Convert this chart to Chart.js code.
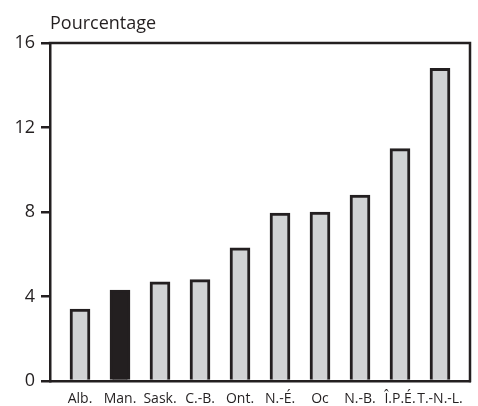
<!DOCTYPE html>
<html>
<head>
<meta charset="utf-8">
<script src="https://cdn.jsdelivr.net/npm/chart.js@4/dist/chart.umd.min.js"></script>
<style>
  html, body { margin: 0; padding: 0; background: #ffffff; }
  #wrap { width: 478px; height: 406px; }
</style>
</head>
<body>
<div id="wrap"><canvas id="c" width="478" height="406"></canvas></div>
<script>
const categories = ["Alb.", "Man.", "Sask.", "C.-B.", "Ont.", "N.-É.", "Oc", "N.-B.", "Î.P.É.", "T.-N.-L."];
const values = [3.4, 4.3, 4.7, 4.8, 6.3, 7.95, 8.0, 8.8, 11.0, 14.8];
const highlighted = "Man.";
const yTicks = [0, 4, 8, 12, 16];
const yTitle = "Pourcentage";

const INK = "#231f20";
const GREY = "#d1d3d4";

const points = categories.map((c, i) => ({ x: i, y: values[i] }));
const fills = categories.map(c => c === highlighted ? INK : GREY);

const framePlugin = {
  id: "frame",
  afterDraw(chart) {
    const { ctx, chartArea: a } = chart;
    ctx.save();
    ctx.strokeStyle = INK;
    ctx.lineWidth = 2.5;
    ctx.beginPath();
    ctx.moveTo(a.left - 1.25, a.top);
    ctx.lineTo(a.right, a.top);
    ctx.lineTo(a.right, a.bottom + 1.25);
    ctx.stroke();
    ctx.fillStyle = INK;
    ctx.font = "18px 'Open Sans'";
    ctx.textAlign = "left";
    ctx.textBaseline = "alphabetic";
    ctx.fillText(yTitle, a.left, 29);
    ctx.restore();
  }
};

new Chart(document.getElementById("c"), {
  type: "bar",
  data: {
    datasets: [{
      data: points,
      backgroundColor: fills,
      borderColor: INK,
      borderWidth: 3,
      borderSkipped: "start",
      barThickness: 20
    }]
  },
  options: {
    responsive: false,
    animation: false,
    events: [],
    layout: { padding: { top: 43, right: 8, left: 0, bottom: 0 } },
    plugins: { legend: { display: false }, tooltip: { enabled: false }, title: { display: false } },
    scales: {
      x: {
        type: "linear",
        offset: false,
        min: -0.75,
        max: 9.75,
        afterBuildTicks(scale) { scale.ticks = categories.map((c, i) => ({ value: i })); },
        afterFit(scale) { scale.height = 25; },
        grid: { display: false },
        border: { display: true, color: INK, width: 2.5 },
        ticks: {
          autoSkip: false,
          maxRotation: 0,
          padding: 2,
          color: INK,
          font: { family: "'Open Sans'", size: 14 },
          callback: (v) => categories[v]
        }
      },
      y: {
        min: 0,
        max: 16,
        afterBuildTicks(scale) { scale.ticks = yTicks.map(v => ({ value: v })); },
        afterFit(scale) { scale.width = 50; },
        grid: { display: true, drawOnChartArea: false, drawTicks: true, tickLength: 9, color: INK, lineWidth: 2.5 },
        border: { display: true, color: INK, width: 2.5 },
        ticks: {
          padding: 6,
          color: INK,
          font: { family: "'Open Sans'", size: 18 }
        }
      }
    }
  },
  plugins: [framePlugin]
});
</script>
</body>
</html>
